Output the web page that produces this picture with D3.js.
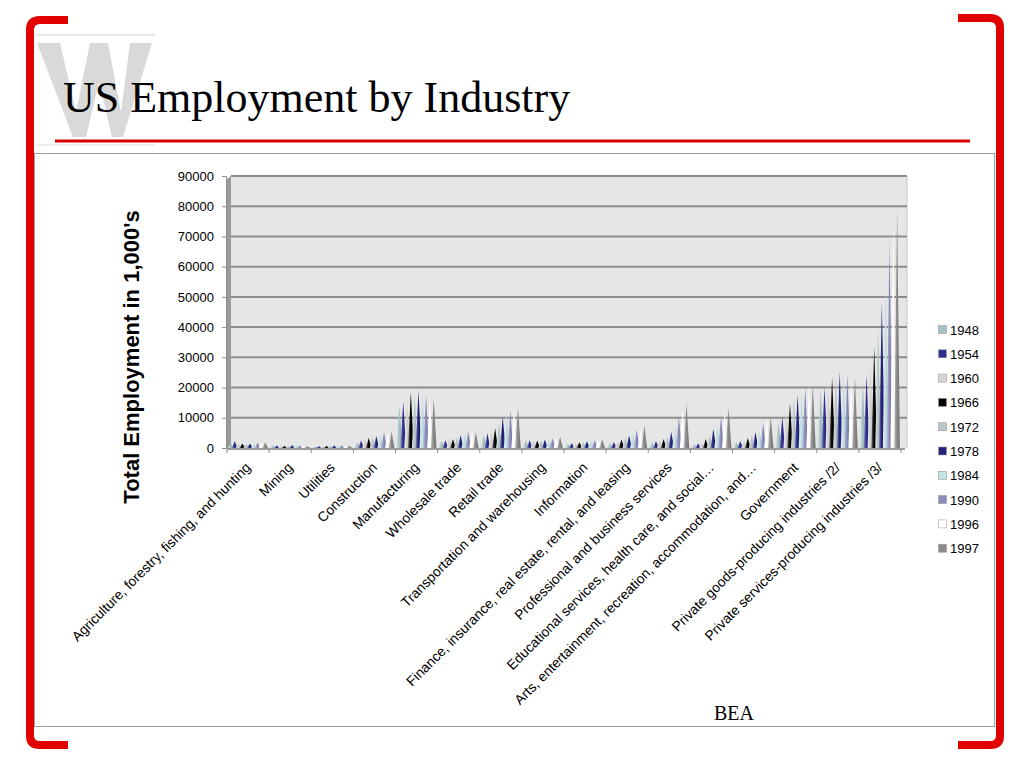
<!DOCTYPE html>
<html><head><meta charset="utf-8">
<script src="https://cdn.jsdelivr.net/npm/d3@7"></script>
<style>html,body{margin:0;padding:0;background:#fff;}svg{display:block;}</style>
</head><body>
<script>
const categories = ["Agriculture, forestry, fishing, and hunting","Mining","Utilities","Construction","Manufacturing","Wholesale trade","Retail trade","Transportation and warehousing","Information","Finance, insurance, real estate, rental, and leasing","Professional and business services","Educational services, health care, and social…","Arts, entertainment, recreation, accommodation, and…","Government","Private goods-producing industries /2/","Private services-producing industries /3/"];
const years = ["1948","1954","1960","1966","1972","1978","1984","1990","1996","1997"];
const colors = ["#a9c3c4","#2e2e8e","#d6d6d6","#000000","#b9c9c9","#23237c","#c4e3e3","#8a8abb","#ffffff","#8a8a8a"];
const v1948 = [1600,900,500,2000,14500,2400,4500,2700,1500,1700,1900,1200,2000,8500,20000,22000];
const v1954 = [2200,800,550,2500,15500,2600,5000,2600,1600,2000,2300,1500,2200,10300,20200,24200];
const v1960 = [1600,700,600,2900,16000,2900,5800,2500,1700,2400,2700,2000,2600,12000,21500,28000];
const v1966 = [1500,650,650,3300,18500,3000,6600,2500,1900,2800,3000,3000,3300,14900,23500,33400];
const v1972 = [1400,650,700,3700,18000,3600,8300,2600,2100,3400,4000,4300,4200,16500,24000,40000];
const v1978 = [1500,950,800,4000,19000,4200,10300,2800,2200,4100,5400,6300,5300,17500,25100,48000];
const v1984 = [1500,1000,850,4200,18000,4800,11300,2900,2400,4900,7000,7800,6300,18500,24500,55000];
const v1990 = [1700,750,850,5300,17500,5500,12300,3200,2600,6000,10300,10300,8300,20200,24500,68800];
const v1996 = [1800,600,800,5400,16500,5300,13000,3500,2700,6400,12800,12600,9800,20700,23500,76000];
const v1997 = [1800,600,780,5500,16500,5300,13500,3600,2800,7400,14800,13200,10300,20900,23500,79700];
const seriesValues = [v1948,v1954,v1960,v1966,v1972,v1978,v1984,v1990,v1996,v1997];
const yTicks = [0,10000,20000,30000,40000,50000,60000,70000,80000,90000];

const W = 1024, H = 768;
const svg = d3.select("body").append("svg").attr("width", W).attr("height", H);
const defs = svg.append("defs");

// slide decorations
const red = "#e00000";
svg.append("path").attr("d","M68,20 L40,20 Q30,20 30,30 L30,736 Q30,745 40,745 L68,745")
  .attr("fill","none").attr("stroke",red).attr("stroke-width",8);
svg.append("path").attr("d","M958,18 L990,18 Q1000,18 1000,28 L1000,736 Q1000,745 990,745 L958,745")
  .attr("fill","none").attr("stroke",red).attr("stroke-width",8);
svg.append("line").attr("x1",36).attr("x2",155).attr("y1",35).attr("y2",35).attr("stroke","#cfcfcf").attr("stroke-width",1);
svg.append("line").attr("x1",36).attr("x2",155).attr("y1",145).attr("y2",145).attr("stroke","#dcdcdc").attr("stroke-width",1);
// watermark W (decorative shape)
svg.append("path")
  .attr("d","M37,43 L60,43 L76,112 L90,43 L108,43 L121,112 L130,43 L152,43 L123,137 L112,137 L99,82 L86,137 L73,137 Z")
  .attr("fill","#d9d9d9");
svg.append("text").attr("x",63).attr("y",112).attr("font-family","Liberation Serif, serif")
  .attr("font-size",44).attr("fill","#000").text("US Employment by Industry");
svg.append("line").attr("x1",55).attr("x2",970).attr("y1",141).attr("y2",141).attr("stroke","#d40000").attr("stroke-width",3);
svg.append("rect").attr("x",34.5).attr("y",153.5).attr("width",960).attr("height",573)
  .attr("fill","#fff").attr("stroke","#a0a0a0").attr("stroke-width",1);

// chart
const x0 = 227, x1 = 901, yTop = 176, yBase = 448;
const x = d3.scaleBand().domain(categories).range([x0, x1]).paddingInner(0).paddingOuter(0);
const xs = d3.scaleBand().domain(years).range([2, x.bandwidth() - 2]).padding(0);
const y = d3.scaleLinear().domain([0, 90000]).range([yBase, yTop]);

// back wall
svg.append("rect").attr("x", x0 + 4).attr("y", yTop).attr("width", x1 - x0 + 2).attr("height", yBase - yTop)
  .attr("fill","#e6e6e6");
svg.append("path").attr("d",`M${x0},${yTop+3} L${x0+4},${yTop} L${x0+4},${yBase-2} L${x0},${yBase+1} Z`).attr("fill","#9a9a9a");
svg.append("line").attr("x1",x1+6).attr("x2",x1+6).attr("y1",yTop).attr("y2",yBase).attr("stroke","#c8c8c8").attr("stroke-width",1);

// gridlines
svg.append("g").selectAll("line").data(yTicks.slice(1)).join("line")
  .attr("x1", x0 + 4).attr("x2", x1 + 6).attr("y1", d => y(d)).attr("y2", d => y(d))
  .attr("stroke","#8c8c8c").attr("stroke-width",2);

// y axis
const yAxis = d3.axisLeft(y).tickValues(yTicks).tickFormat(d3.format("d")).tickSize(4).tickPadding(8);
const gy = svg.append("g").attr("transform", `translate(${x0 - 1},0)`).call(yAxis);
gy.select(".domain").attr("stroke","#8c8c8c");
gy.selectAll(".tick line").attr("stroke","#8c8c8c");
gy.selectAll("text").attr("font-family","Liberation Sans, Arial, sans-serif").attr("font-size",13).attr("fill","#000");

// x axis floor
svg.append("line").attr("x1",x0).attr("x2",x1+4).attr("y1",yBase+1).attr("y2",yBase+1).attr("stroke","#9a9a9a").attr("stroke-width",2);
svg.append("g").selectAll("line").data(d3.range(categories.length + 1)).join("line")
  .attr("x1", i => x0 + i * x.bandwidth()).attr("x2", i => x0 + i * x.bandwidth())
  .attr("y1", yBase + 1).attr("y2", yBase + 5).attr("stroke","#8c8c8c");

// gradients for cones
colors.forEach((c, i) => {
  const g = defs.append("linearGradient").attr("id","cg" + i).attr("x1","0").attr("x2","1").attr("y1","0").attr("y2","0");
  const base = d3.color(c);
  const light = i === 8 ? "#ffffff" : d3.interpolateRgb(c, "#ffffff")(0.45);
  const dark = i === 8 ? "#e8e8e8" : base.darker(0.5).toString();
  g.append("stop").attr("offset","0%").attr("stop-color", light);
  g.append("stop").attr("offset","45%").attr("stop-color", c);
  g.append("stop").attr("offset","100%").attr("stop-color", dark);
});

// cones
const coneHalf = 2.8;
const cones = svg.append("g");
seriesValues.forEach((vals, si) => {
  cones.append("g").selectAll("path").data(vals).join("path")
    .attr("d", (v, ci) => {
      const cx = x(categories[ci]) + xs(years[si]) + xs.bandwidth() / 2;
      return `M${cx - coneHalf},${y(0)} L${cx},${y(v)} L${cx + coneHalf},${y(0)} Z`;
    })
    .attr("fill", `url(#cg${si})`);
});

// x labels
svg.append("g").selectAll("text").data(categories).join("text")
  .attr("transform", d => `translate(${x(d) + x.bandwidth() / 2},${yBase + 17}) rotate(-45)`)
  .attr("text-anchor","end").attr("dy","0.35em")
  .attr("font-family","Liberation Sans, Arial, sans-serif").attr("font-size",13.8).attr("fill","#000")
  .text(d => d);

// y title
svg.append("text").attr("transform","translate(139,357) rotate(-90)").attr("text-anchor","middle")
  .attr("font-family","Liberation Sans, Arial, sans-serif").attr("font-weight","bold").attr("font-size",22)
  .attr("fill","#000").text("Total Employment in 1,000's");

// legend
const lg = svg.append("g");
years.forEach((yr, i) => {
  const ly = 330 + i * 24.3;
  lg.append("rect").attr("x",938.5).attr("y",ly - 4.5).attr("width",8).attr("height",8)
    .attr("fill",colors[i]).attr("stroke", i === 8 ? "#aaa" : "#999").attr("stroke-width",0.6);
  lg.append("text").attr("x",950).attr("y",ly).attr("dy","0.35em")
    .attr("font-family","Liberation Sans, Arial, sans-serif").attr("font-size",13).attr("fill","#000").text(yr);
});

// source
svg.append("text").attr("x",734).attr("y",720).attr("text-anchor","middle")
  .attr("font-family","Liberation Serif, serif").attr("font-size",20).attr("fill","#000").text("BEA");
</script>
</body></html>
